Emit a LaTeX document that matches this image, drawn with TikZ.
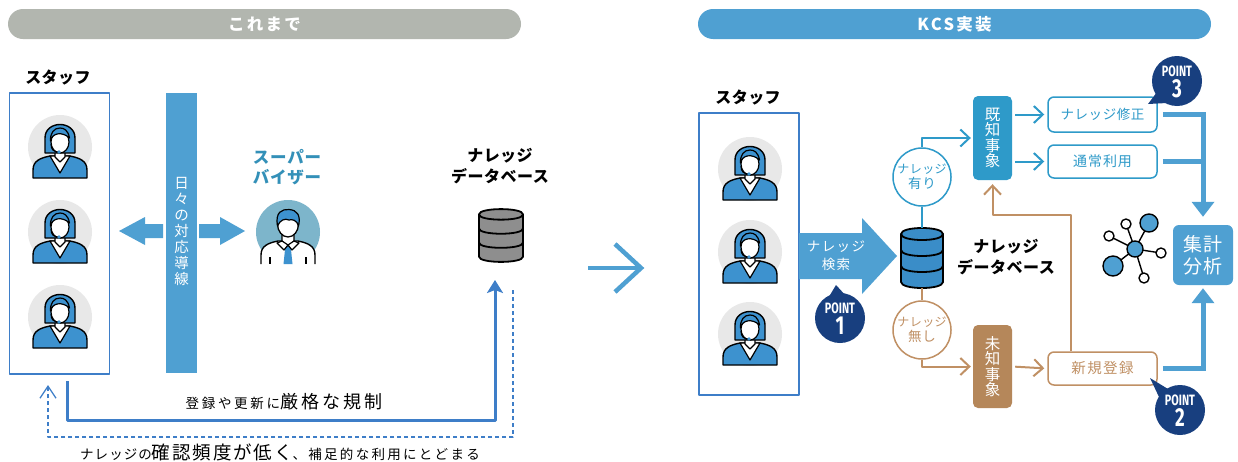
\documentclass[tikz,border=0pt]{standalone}
\usepackage{fontspec}
\setmainfont{Noto Sans CJK JP}
\newfontfamily\ptfont{Fira Sans}
\usetikzlibrary{arrows.meta,calc}

\definecolor{hdrgray}{HTML}{B2B6AF}
\definecolor{kblue}{HTML}{4FA0D2}
\definecolor{frameblue}{HTML}{3E7EC8}
\definecolor{knownblue}{HTML}{2E9AC9}
\definecolor{kbrown}{HTML}{C09064}
\definecolor{kbrownfill}{HTML}{B5875A}
\definecolor{navy}{HTML}{183F7F}
\definecolor{avbg}{HTML}{E8E8E8}
\definecolor{svbg}{HTML}{7DB5CB}
\definecolor{svtext}{HTML}{3390B8}
\definecolor{dbgray}{HTML}{8E8E8E}
\definecolor{dbblue}{HTML}{3A8DC8}
\definecolor{figblue}{HTML}{3D92CF}

% database cylinder, centred on the current origin
\newcommand\dbdraw[1]{%
  \filldraw[fill=#1,draw=black,line width=1.8pt] (-21,-24) -- (-21,24) .. controls (-21,32) and (21,32) .. (21,24) -- (21,-24) .. controls (21,-32) and (-21,-32) .. (-21,-24) -- cycle;
  \draw[line width=1.8pt] (-21,-24) .. controls (-21,-16) and (21,-16) .. (21,-24);
  \draw[line width=1.8pt] (-21,-8) .. controls (-21,0) and (21,0) .. (21,-8);
  \draw[line width=1.8pt] (-21,8) .. controls (-21,16) and (21,16) .. (21,8);
}

% POINT badge: centre, tail base 1, tail tip, tail base 2, number
\newcommand\pointbadge[5]{%
  \fill[navy] #2 -- #3 -- #4 -- cycle;
  \fill[navy] #1 circle (25);
  \node[text=white,inner sep=0pt] at ($#1+(0,-10)$) {\scalebox{0.72}[1]{\fontsize{15}{15}\ptfont\bfseries POINT}};
  \node[text=white,inner sep=0pt] at ($#1+(0,8)$) {\scalebox{0.72}[1]{\fontsize{26}{26}\ptfont\bfseries #5}};
}

\tikzset{
  woman/.pic={
    \fill[avbg] (0,0) circle (32);
    \filldraw[fill=figblue,draw=black,line width=1.4pt] (-27,31) -- (-27,23) .. controls (-27,14) and (-20,11) .. (-10,9) -- (10,9) .. controls (20,11) and (27,14) .. (27,23) -- (27,31) -- cycle;
    \filldraw[fill=white,draw=black,line width=1.2pt] (-10,9) -- (0,26) -- (10,9) -- cycle;
    \filldraw[fill=white,draw=black,line width=1.2pt] (-5,2) -- (-5,10) -- (0,15) -- (5,10) -- (5,2);
    \filldraw[fill=figblue,draw=black,line width=1.4pt] (-15,6) -- (-15,-9) .. controls (-15,-27) and (15,-27) .. (15,-9) -- (15,6) -- cycle;
    \filldraw[fill=white,draw=black,line width=1.2pt] (0,-5) ellipse [x radius=9, y radius=11];
    \filldraw[fill=figblue,draw=black,line width=1.2pt] (-9.5,-6) .. controls (-8,-14) and (2,-16) .. (9.5,-9) .. controls (8,-17) and (4,-19) .. (0,-19) .. controls (-6,-19) and (-10,-14) .. (-9.5,-6) -- cycle;
    \draw[line width=1.1pt] (-9,-3) .. controls (-9,3) and (-6,5) .. (-1,5);
    \fill[figblue] (-1,5) circle (1.8);
  },
  man/.pic={
    \fill[svbg] (0,0) circle (32);
    \fill[white] (-27,32) -- (-27,23) .. controls (-27,14) and (-20,11) .. (-10,9) -- (10,9) .. controls (20,11) and (27,14) .. (27,23) -- (27,32) -- cycle;
    \draw[line width=1.4pt] (-27,32) -- (-27,23) .. controls (-27,14) and (-20,11) .. (-10,9) -- (10,9) .. controls (20,11) and (27,14) .. (27,23) -- (27,32);
    \draw[line width=1.4pt] (-18,25) -- (-18,32) (18,25) -- (18,32);
    \fill[figblue] (-2.5,13) -- (2.5,13) -- (4.5,32) -- (-4.5,32) -- cycle;
    \filldraw[fill=white,draw=black,line width=1.2pt] (-6,1) -- (-6,9) -- (0,14) -- (6,9) -- (6,1);
    \filldraw[fill=white,draw=black,line width=1.2pt] (-6,9) -- (-11,11) -- (-4,18) -- (0,13) -- cycle;
    \filldraw[fill=white,draw=black,line width=1.2pt] (6,9) -- (11,11) -- (4,18) -- (0,13) -- cycle;
    \filldraw[fill=white,draw=black,line width=1.3pt] (0,-8) ellipse [x radius=10.5, y radius=13];
    \filldraw[fill=figblue,draw=black,line width=1.2pt] (-10.5,-6) .. controls (-13,-20) and (-6,-23) .. (1,-22.5) .. controls (9,-22) and (13,-17) .. (10.5,-6) .. controls (9,-12) and (4,-13) .. (1,-12) .. controls (-3,-14) and (-8,-12) .. (-10.5,-6) -- cycle;
  },
  header/.style={rounded corners=15pt, minimum height=30pt, minimum width=513pt, inner sep=0pt, text=white,
    font=\fontsize{16.5}{18}\selectfont\bfseries\addfontfeatures{LetterSpace=14}},
  staffbox/.style={draw=frameblue, line width=1.5pt, minimum width=100pt, inner sep=0pt},
  title/.style={font=\fontsize{16}{21}\selectfont\bfseries\addfontfeatures{LetterSpace=3}, align=center, inner sep=0pt},
  vtext/.style={text=white, align=center, inner sep=0pt},
  ring/.style={circle, line width=1.5pt, minimum size=58pt, inner sep=0pt, align=center,
    font=\fontsize{12}{14.5}\selectfont\addfontfeatures{LetterSpace=4}},
  outbox/.style={rounded corners=6pt, line width=1.5pt, minimum width=109pt, inner sep=0pt},
  bluethin/.style={draw=knownblue, line width=2pt},
  brownthin/.style={draw=kbrown, line width=2pt},
  openhead/.style={-{Straight Barb[length=9pt,width=17pt]}},
  thickblue/.style={draw=kblue, line width=5pt, line join=miter},
}

\begin{document}
\begin{tikzpicture}[x=1pt,y=-1pt,line join=round]
\useasboundingbox (0,0) rectangle (1238,461);
\fill[white] (0,0) rectangle (1238,461);

% ---------- headers ----------
\node[header, fill=hdrgray] (hleft) at (264.5,24) {これまで};
\node[header, fill=kblue] (hright) at (954.5,24) {KCS実装};

% ---------- before: staff ----------
\node[title] (lstafft) at (58,78) {スタッフ};
\node[staffbox, minimum height=281pt] (lstaff) at (59.5,233.5) {};
\foreach \yy in {147,232,317} \pic at (60,\yy) {woman};

% daily support flow
\node[fill=kblue, minimum width=31pt, minimum height=280pt, inner sep=0pt] (flow) at (181.5,233) {};
\node[vtext, font=\fontsize{14.5}{16}\selectfont] at (181.5,231) {日\\々\\の\\対\\応\\導\\線};
\fill[kblue] (119,231) -- (145,217) -- (145,224) -- (163,224) -- (163,238) -- (145,238) -- (145,245) -- cycle;
\fill[kblue] (245,231) -- (220,217) -- (220,224) -- (199,224) -- (199,238) -- (220,238) -- (220,245) -- cycle;

% supervisor
\node[title, text=svtext, font=\fontsize{16.5}{20}\selectfont\bfseries\addfontfeatures{LetterSpace=5}] (svt) at (287,167) {スーパー\\バイザー};
\pic at (288,232) {man};

% knowledge database
\node[title] (ldbt) at (500,166) {ナレッジ\\データベース};
\node[minimum width=44pt, minimum height=54pt, inner sep=0pt] (ldb) at (501,235.5) {};
\begin{scope}[shift={(501,235.5)}, xscale=1.05, yscale=0.88]
  \dbdraw{dbgray}
\end{scope}

% strict registration loop
\coordinate (solidstart) at (67,381);
\coordinate (solidend) at (495,280);
\draw[frameblue, line width=3pt, -{Stealth[length=13pt,width=16pt,inset=3pt]}] (solidstart) |- (solidend |- 0,420) -- (solidend);
\node[inner sep=0pt] (rule) at (284,402) {{\fontsize{13.5}{14}\selectfont\addfontfeatures{LetterSpace=20}登録や更新に}{\fontsize{18}{18}\selectfont\addfontfeatures{LetterSpace=17}厳格な規制}};

% weak feedback loop
\coordinate (dashstart) at (513,290);
\coordinate (dashend) at (48,385);
\draw[frameblue, line width=1.3pt, dash pattern=on 4pt off 3pt, -{Straight Barb[length=12pt,width=16pt]}] (dashstart) |- (dashend |- 0,437) -- (dashend);
\node[inner sep=0pt] (usage) at (280,452) {{\fontsize{13.5}{14}\selectfont\addfontfeatures{LetterSpace=8}ナレッジの}{\fontsize{18.5}{18}\selectfont\addfontfeatures{LetterSpace=10}確認頻度が低く}{\fontsize{13.5}{14}\selectfont\addfontfeatures{LetterSpace=17}、補足的な利用にとどまる}};

% ---------- transition arrow ----------
\coordinate (ma) at (588,268);
\coordinate (mb) at (641,268);
\draw[kblue, line width=4.5pt] (ma) -- (mb);
\draw[kblue, line width=4.5pt, line join=miter] ($(mb)+(-26,-24)$) -- (mb) -- ($(mb)+(-26,24)$);

% ---------- KCS: staff ----------
\node[title] (rstafft) at (748,98) {スタッフ};
\node[staffbox, minimum height=282pt] (rstaff) at (749,254) {};
\foreach \yy in {169,252,334} \pic at (750,\yy) {woman};

% knowledge search arrow
\fill[kblue] (799,233) -- (862,233) -- (862,218) -- (897,256) -- (862,294) -- (862,279) -- (799,279) -- cycle;
\node[vtext, font=\fontsize{13.5}{18}\selectfont\addfontfeatures{LetterSpace=10}] (search) at (836,256) {ナレッジ\\検索};
\pointbadge{(840,318)}{(827,300)}{(836,285)}{(847,297)}{1}

% database
\node[minimum width=42pt, minimum height=60pt, inner sep=0pt] (rdb) at (922,258) {};
\begin{scope}[shift={(922,258)}]
  \dbdraw{dbblue}
\end{scope}
\node[title] (rdbt) at (1006,257) {ナレッジ\\データベース};

% branch circles
\node[ring, draw=knownblue, text=knownblue] (yes) at (922,177) {ナレッジ\\{\fontsize{13.5}{14}\selectfont 有り}};
\node[ring, draw=kbrown, text=kbrown] (no) at (922,330) {ナレッジ\\{\fontsize{13.5}{14}\selectfont 無し}};

% known / unknown cases
\node[fill=knownblue, rounded corners=5pt, minimum width=39pt, minimum height=84pt, inner sep=0pt, text=white, align=center, font=\fontsize{15.5}{15.5}\selectfont] (known) at (992.5,138) {既\\知\\事\\象};
\node[fill=kbrownfill, rounded corners=5pt, minimum width=39pt, minimum height=83pt, inner sep=0pt, text=white, align=center, font=\fontsize{15.5}{15.5}\selectfont] (unknown) at (992.5,366.5) {未\\知\\事\\象};

% outcome boxes
\node[outbox, draw=knownblue, text=knownblue, minimum height=35pt, font=\fontsize{13.5}{14}\selectfont\addfontfeatures{LetterSpace=4}] (fix) at (1102.5,114.5) {ナレッジ修正};
\node[outbox, draw=knownblue, text=knownblue, minimum height=33pt, font=\fontsize{14}{14}\selectfont\addfontfeatures{LetterSpace=7}] (normal) at (1102.5,161.5) {通常利用};
\node[outbox, draw=kbrown, text=kbrown, minimum height=33pt, font=\fontsize{14.5}{14}\selectfont\addfontfeatures{LetterSpace=10}] (new) at (1102.5,368.5) {新規登録};

% aggregation
\node[fill=kblue, rounded corners=6pt, minimum width=60pt, minimum height=60pt, inner sep=0pt, text=white, align=center, font=\fontsize{19}{22}\selectfont\addfontfeatures{LetterSpace=6}] (agg) at (1203,255) {集計\\分析};

% connectors
\draw[bluethin, openhead, shorten >=2pt] (yes.north) |- (known.west);
\draw[bluethin] (yes.south) -- (rdb.north);
\draw[brownthin] (rdb.south) -- (no.north);
\draw[brownthin, openhead, shorten >=2pt] (no.south) |- (unknown.west);
\draw[bluethin, openhead, shorten <=3pt, shorten >=3pt] (known.east |- fix.west) -- (fix.west);
\draw[bluethin, openhead, shorten <=3pt, shorten >=3pt] (known.east |- normal.west) -- (normal.west);
\draw[brownthin, openhead, shorten <=3pt, shorten >=3pt] (unknown.east) -- (new.west);
\draw[brownthin, openhead, shorten >=4pt] ([xshift=-32pt]new.north) |- (known.south |- 0,215) -- (known.south);

\draw[thickblue, -{Triangle[length=15pt,width=22pt]}, shorten <=5pt, shorten >=8pt] (fix.east) -| (agg.north);
\draw[thickblue, shorten <=5pt] (normal.east) -- (normal.east -| agg.north);
\draw[thickblue, -{Triangle[length=15pt,width=22pt]}, shorten <=5pt, shorten >=3pt] (new.east) -| (agg.south);

\pointbadge{(1177,81)}{(1157,92)}{(1148,104)}{(1167,103)}{3}
\pointbadge{(1180,410)}{(1159,397)}{(1150,378)}{(1168,389)}{2}

% network icon
\begin{scope}[line width=1.4pt]
  \draw (1135,249) -- (1149,223) (1135,249) -- (1113,266) (1135,249) -- (1126,224)
        (1135,249) -- (1109,236) (1135,249) -- (1161,253) (1135,249) -- (1144,278);
  \filldraw[fill=kblue] (1135,249) circle (8);
  \filldraw[fill=kblue] (1149,223) circle (9);
  \filldraw[fill=kblue] (1113,266) circle (10);
  \filldraw[fill=white] (1126,224) circle (5);
  \filldraw[fill=white] (1109,236) circle (5);
  \filldraw[fill=white] (1161,253) circle (5);
  \filldraw[fill=white] (1144,278) circle (5);
\end{scope}
\end{tikzpicture}
\end{document}
